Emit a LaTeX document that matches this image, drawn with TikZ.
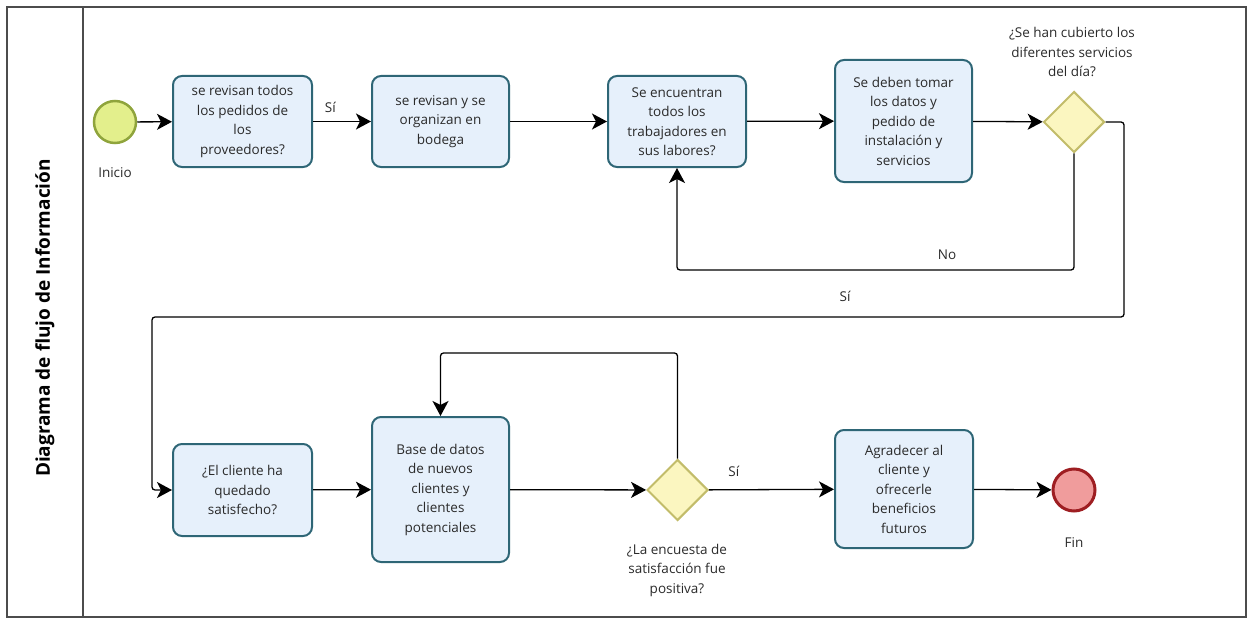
\documentclass[tikz,border=0pt]{standalone}
\usepackage{fontspec}
\setmainfont{Open Sans}
\usetikzlibrary{shapes.geometric,arrows.meta}
\definecolor{taskfill}{HTML}{E6F0FB}
\definecolor{taskline}{HTML}{2E6676}
\definecolor{gwfill}{HTML}{FBF6C0}
\definecolor{gwline}{HTML}{C2BC6A}
\definecolor{startfill}{HTML}{E3EF8C}
\definecolor{startline}{HTML}{8FA43C}
\definecolor{endfill}{HTML}{F09C9C}
\definecolor{endline}{HTML}{9E1E22}
\definecolor{txt}{HTML}{2A2A2A}
\tikzset{
  every node/.style={text=txt, font=\fontsize{13.5}{19.5}\selectfont},
  task/.style={draw=taskline, fill=taskfill, line width=2pt, rounded corners=9pt,
    align=center, inner sep=2pt},
  gateway/.style={diamond, draw=gwline, fill=gwfill, line width=2pt,
    minimum width=61pt, minimum height=61pt, inner sep=0pt},
  startev/.style={circle, draw=startline, fill=startfill, line width=2.5pt,
    minimum size=42pt, inner sep=0pt},
  endev/.style={circle, draw=endline, fill=endfill, line width=3pt,
    minimum size=42pt, inner sep=0pt},
  lbl/.style={align=center, inner sep=0pt},
  flow/.style={draw=black, line width=1.3pt, rounded corners=3pt,
    -{Stealth[length=15pt,width=16pt,inset=4pt]}},
  frame/.style={draw=black!70, line width=1.5pt}
}
\begin{document}
\begin{tikzpicture}[x=1pt,y=-1pt]
\useasboundingbox (0,0) rectangle (1250,623);
% pool and lane
\draw[frame] (7,7) rectangle (1246,617);
\draw[frame] (83,7) -- (83,617);
\node[rotate=90, font=\bfseries\fontsize{19}{22}\selectfont, text=black] (title) at (45,318) {Diagrama de flujo de Información};

% upper row
\node[startev] (start) at (115,122) {};
\node[lbl] (startlbl) at (115,173) {Inicio};
\node[task, minimum width=139pt, minimum height=91pt] (t1) at (242.5,121.5)
  {se revisan todos\\los pedidos de\\los\\proveedores?};
\node[task, minimum width=137pt, minimum height=91pt] (t2) at (440.5,121.5)
  {se revisan y se\\organizan en\\bodega};
\node[task, minimum width=138pt, minimum height=91pt] (t3) at (677,121.5)
  {Se encuentran\\todos los\\trabajadores en\\sus labores?};
\node[task, minimum width=137pt, minimum height=122pt] (t4) at (903.5,121)
  {Se deben tomar\\los datos y\\pedido de\\instalación y\\servicios};
\node[gateway] (d1) at (1074,122) {};
\node[lbl] (d1lbl) at (1072,52) {¿Se han cubierto los\\diferentes servicios\\del día?};

% lower row
\node[task, minimum width=139pt, minimum height=92pt] (t5) at (242.5,490)
  {¿El cliente ha\\quedado\\satisfecho?};
\node[task, minimum width=137pt, minimum height=145pt] (t6) at (440.5,489.5)
  {Base de datos\\de nuevos\\clientes y\\clientes\\potenciales};
\node[gateway] (d2) at (677.5,490) {};
\node[lbl] (d2lbl) at (677,570) {¿La encuesta de\\satisfacción fue\\positiva?};
\node[task, minimum width=138pt, minimum height=118pt] (t7) at (904,489)
  {Agradecer al\\cliente y\\ofrecerle\\beneficios\\futuros};
\node[endev] (end) at (1074,490) {};
\node[lbl] (endlbl) at (1074,543) {Fin};

% routing points
\coordinate (noY) at (0,270);
\coordinate (siR) at (1124,317);
\coordinate (siL) at (152,317);
\coordinate (loopY) at (0,353);

% sequence flows
\draw[flow] (start) -- (t1);
\draw[flow] (t1) -- node[lbl, above=8pt, pos=0.3] (si1) {Sí} (t2);
\draw[flow] (t2) -- (t3);
\draw[flow] (t3) -- (t4);
\draw[flow] (t4) -- (d1);
\draw[flow] (d1.south) |- (noY -| t3.south) -- (t3.south);
\node[lbl] (nolbl) at (947,255) {No};
\draw[flow] (d1.east) -| (siR) -- (siL) |- (t5.west);
\node[lbl] (si2) at (845,296) {Sí};
\draw[flow] (t5) -- (t6);
\draw[flow] (t6) -- (d2);
\draw[flow] (d2.north) |- (loopY -| t6.north) -- (t6.north);
\draw[flow] (d2) -- node[lbl, above=12pt, pos=0.2] (si3) {Sí} (t7);
\draw[flow] (t7) -- (end);
\end{tikzpicture}
\end{document}
